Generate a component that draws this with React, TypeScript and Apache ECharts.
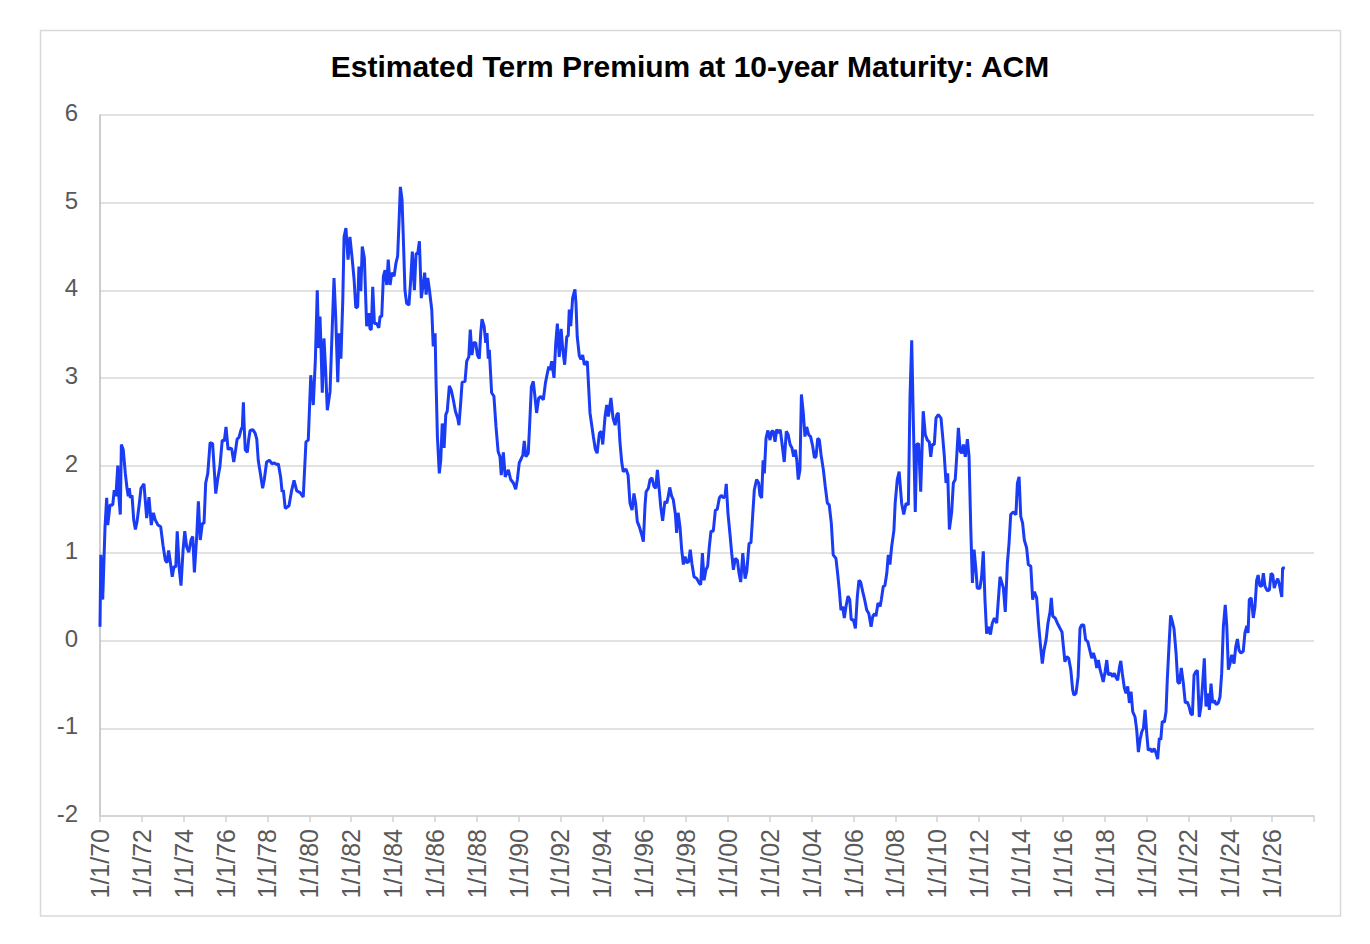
import React, { useEffect, useRef } from "react";
import * as echarts from "echarts";

const TITLE = "Estimated Term Premium at 10-year Maturity: ACM";
const X_MIN = 1970;
const X_MAX = 2028;
const X_STEP = 2;
const Y_MIN = -2;
const Y_MAX = 6;

// [decimal year, term premium %]
const acm1970s: [number, number][] = [
  [1970.0, 0.16], [1970.04, 0.98], [1970.13, 0.47], [1970.24, 1.3], [1970.32, 1.63], [1970.37, 1.32], [1970.48, 1.55], [1970.61, 1.55], [1970.68, 1.72], [1970.76, 1.65], [1970.85, 2.0], [1970.89, 1.68], [1970.97, 1.44],
  [1971.02, 2.24], [1971.11, 2.18], [1971.21, 1.91], [1971.29, 1.74], [1971.35, 1.65], [1971.4, 1.74], [1971.45, 1.63], [1971.53, 1.66], [1971.61, 1.38], [1971.69, 1.27], [1971.77, 1.36], [1971.88, 1.57], [1971.96, 1.74],
  [1972.1, 1.79], [1972.16, 1.61], [1972.23, 1.4], [1972.34, 1.64], [1972.45, 1.32], [1972.55, 1.46], [1972.64, 1.38], [1972.77, 1.32], [1972.9, 1.3],
  [1973.01, 1.09], [1973.12, 0.92], [1973.2, 0.89], [1973.28, 1.03], [1973.36, 0.9], [1973.45, 0.73], [1973.54, 0.85], [1973.62, 0.84], [1973.69, 1.25], [1973.79, 0.81], [1973.87, 0.63], [1973.97, 1.04],
  [1974.05, 1.25], [1974.14, 1.07], [1974.24, 1.01], [1974.35, 1.15], [1974.43, 1.19], [1974.51, 0.78], [1974.62, 1.19], [1974.7, 1.59], [1974.79, 1.15], [1974.89, 1.34], [1974.97, 1.34],
  [1975.05, 1.8], [1975.15, 1.91], [1975.26, 2.26], [1975.38, 2.25], [1975.53, 1.68], [1975.62, 1.84], [1975.73, 1.99], [1975.84, 2.29], [1975.94, 2.28],
  [1976.02, 2.44], [1976.12, 2.18], [1976.21, 2.2], [1976.29, 2.19], [1976.39, 2.04], [1976.48, 2.18], [1976.55, 2.3], [1976.64, 2.32], [1976.74, 2.41], [1976.8, 2.44], [1976.85, 2.72], [1976.89, 2.44], [1976.94, 2.18],
  [1977.04, 2.15], [1977.1, 2.29], [1977.17, 2.4], [1977.3, 2.41], [1977.41, 2.37], [1977.49, 2.3], [1977.56, 2.06], [1977.66, 1.91], [1977.77, 1.74], [1977.85, 1.84], [1977.96, 2.04],
  [1978.09, 2.06], [1978.22, 2.02], [1978.33, 2.03], [1978.44, 2.01], [1978.52, 2.02], [1978.63, 1.87], [1978.7, 1.7], [1978.76, 1.72], [1978.85, 1.51], [1979.03, 1.54],
  [1979.16, 1.72], [1979.27, 1.83], [1979.4, 1.71], [1979.56, 1.69], [1979.71, 1.64], [1979.84, 2.27], [1979.95, 2.29],
];

const acm1980s: [number, number][] = [
  [1980.07, 3.03], [1980.19, 2.69], [1980.29, 3.21], [1980.38, 4.0], [1980.45, 3.34], [1980.51, 3.7], [1980.56, 3.34], [1980.62, 2.83], [1980.7, 3.45], [1980.78, 3.09], [1980.86, 2.63], [1980.99, 2.84],
  [1981.08, 3.47], [1981.18, 4.14], [1981.26, 3.7], [1981.36, 2.95], [1981.43, 3.51], [1981.51, 3.22], [1981.6, 3.89], [1981.66, 4.61], [1981.75, 4.71], [1981.85, 4.35], [1981.94, 4.61],
  [1982.04, 4.38], [1982.14, 4.12], [1982.22, 3.8], [1982.31, 3.81], [1982.37, 4.27], [1982.46, 3.99], [1982.53, 4.5], [1982.63, 4.37], [1982.74, 3.59], [1982.84, 3.74], [1982.9, 3.56], [1982.96, 3.55],
  [1983.03, 4.04], [1983.11, 3.62], [1983.22, 3.62], [1983.32, 3.57], [1983.38, 3.7], [1983.46, 3.7], [1983.54, 4.16], [1983.62, 4.23], [1983.7, 4.06], [1983.77, 4.35], [1983.86, 4.06], [1983.94, 4.2],
  [1984.05, 4.16], [1984.14, 4.31], [1984.22, 4.39], [1984.29, 4.8], [1984.35, 5.18], [1984.43, 5.03], [1984.49, 4.61], [1984.57, 4.0], [1984.65, 3.85], [1984.76, 3.83], [1984.84, 4.1], [1984.92, 4.44],
  [1985.02, 4.0], [1985.1, 4.42], [1985.18, 4.42], [1985.26, 4.56], [1985.35, 3.91], [1985.45, 4.08], [1985.51, 4.2], [1985.58, 3.95], [1985.66, 4.14], [1985.73, 4.02], [1985.85, 3.78], [1985.92, 3.36],
  [1986.01, 3.51], [1986.05, 3.01], [1986.12, 2.33], [1986.21, 1.91], [1986.28, 2.06], [1986.35, 2.48], [1986.44, 2.2], [1986.52, 2.58], [1986.59, 2.62], [1986.69, 2.91], [1986.78, 2.86], [1986.88, 2.75], [1986.98, 2.62],
  [1987.09, 2.54], [1987.15, 2.46], [1987.23, 2.71], [1987.3, 2.95], [1987.44, 2.96], [1987.52, 3.19], [1987.62, 3.24], [1987.69, 3.55], [1987.77, 3.26], [1987.85, 3.4], [1987.95, 3.4],
  [1988.03, 3.26], [1988.12, 3.22], [1988.19, 3.51], [1988.25, 3.67], [1988.35, 3.59], [1988.43, 3.4], [1988.49, 3.51], [1988.55, 3.22], [1988.6, 3.32], [1988.71, 2.83], [1988.82, 2.79], [1988.92, 2.44],
  [1989.02, 2.16], [1989.11, 2.1], [1989.17, 1.89], [1989.27, 2.15], [1989.36, 1.87], [1989.51, 1.95], [1989.62, 1.84], [1989.75, 1.8], [1989.86, 1.73], [1989.94, 1.84],
];

const acm1990s: [number, number][] = [
  [1990.03, 2.03], [1990.13, 2.08], [1990.2, 2.12], [1990.27, 2.28], [1990.35, 2.1], [1990.46, 2.14], [1990.53, 2.48], [1990.61, 2.9], [1990.7, 2.96], [1990.77, 2.81], [1990.86, 2.6], [1990.96, 2.77],
  [1991.06, 2.79], [1991.18, 2.75], [1991.28, 2.94], [1991.37, 3.05], [1991.44, 3.13], [1991.5, 3.09], [1991.58, 3.19], [1991.69, 3.0], [1991.77, 3.38], [1991.85, 3.62], [1991.94, 3.24],
  [1992.03, 3.56], [1992.11, 3.32], [1992.2, 3.15], [1992.3, 3.47], [1992.37, 3.48], [1992.42, 3.78], [1992.49, 3.59], [1992.58, 3.91], [1992.69, 4.01], [1992.74, 3.85], [1992.8, 3.47], [1992.9, 3.25], [1992.98, 3.21],
  [1993.06, 3.26], [1993.14, 3.15], [1993.28, 3.19], [1993.41, 2.6], [1993.57, 2.33], [1993.66, 2.19], [1993.75, 2.14], [1993.86, 2.37], [1993.95, 2.39],
  [1994.02, 2.24], [1994.13, 2.56], [1994.21, 2.69], [1994.29, 2.56], [1994.41, 2.77], [1994.51, 2.54], [1994.61, 2.46], [1994.69, 2.58], [1994.76, 2.6], [1994.84, 2.27], [1994.93, 2.03],
  [1995.0, 1.93], [1995.13, 1.96], [1995.23, 1.89], [1995.32, 1.57], [1995.42, 1.49], [1995.51, 1.68], [1995.59, 1.57], [1995.67, 1.36], [1995.77, 1.3], [1995.88, 1.21], [1995.96, 1.13],
  [1996.04, 1.55], [1996.09, 1.7], [1996.2, 1.74], [1996.28, 1.84], [1996.37, 1.86], [1996.47, 1.76], [1996.55, 1.74], [1996.63, 1.95], [1996.72, 1.72], [1996.79, 1.53], [1996.88, 1.37], [1996.99, 1.59],
  [1997.08, 1.57], [1997.15, 1.65], [1997.22, 1.75], [1997.31, 1.65], [1997.39, 1.61], [1997.49, 1.44], [1997.55, 1.23], [1997.62, 1.46], [1997.71, 1.3], [1997.79, 1.04], [1997.87, 0.87], [1997.95, 0.96],
  [1998.03, 0.89], [1998.12, 0.9], [1998.2, 1.04], [1998.28, 0.88], [1998.38, 0.73], [1998.51, 0.71], [1998.62, 0.66], [1998.7, 0.64], [1998.78, 1.0], [1998.86, 0.69], [1998.95, 0.81],
  [1999.03, 0.85], [1999.11, 1.07], [1999.19, 1.25], [1999.3, 1.25], [1999.4, 1.49], [1999.49, 1.5], [1999.59, 1.63], [1999.68, 1.66], [1999.78, 1.63], [1999.86, 1.65], [1999.92, 1.79],
];

const acm2000s: [number, number][] = [
  [2000.0, 1.46], [2000.1, 1.21], [2000.18, 1.0], [2000.26, 0.81], [2000.35, 0.94], [2000.45, 0.92], [2000.53, 0.77], [2000.61, 0.67], [2000.71, 1.0], [2000.82, 0.71], [2000.9, 0.79],
  [2001.01, 1.11], [2001.1, 1.12], [2001.18, 1.42], [2001.26, 1.72], [2001.37, 1.84], [2001.47, 1.8], [2001.53, 1.66], [2001.61, 1.63], [2001.68, 2.06], [2001.74, 1.91], [2001.82, 2.31], [2001.91, 2.4],
  [2002.01, 2.29], [2002.09, 2.39], [2002.17, 2.39], [2002.25, 2.27], [2002.33, 2.41], [2002.43, 2.37], [2002.5, 2.41], [2002.6, 2.22], [2002.69, 2.04], [2002.79, 2.39], [2002.88, 2.35], [2002.97, 2.24],
  [2003.06, 2.2], [2003.14, 2.1], [2003.22, 2.18], [2003.29, 2.06], [2003.36, 1.84], [2003.44, 1.95], [2003.51, 2.81], [2003.6, 2.6], [2003.68, 2.33], [2003.76, 2.44], [2003.86, 2.35], [2003.95, 2.33],
  [2004.05, 2.22], [2004.13, 2.09], [2004.21, 2.1], [2004.29, 2.31], [2004.37, 2.29], [2004.45, 2.12], [2004.56, 1.95], [2004.65, 1.76], [2004.75, 1.57], [2004.84, 1.55], [2004.94, 1.34],
  [2005.03, 0.98], [2005.16, 0.94], [2005.24, 0.77], [2005.32, 0.58], [2005.4, 0.35], [2005.48, 0.39], [2005.56, 0.26], [2005.64, 0.39], [2005.74, 0.51], [2005.82, 0.47], [2005.89, 0.24], [2005.99, 0.24],
  [2006.09, 0.14], [2006.18, 0.5], [2006.26, 0.69], [2006.34, 0.67], [2006.44, 0.56], [2006.53, 0.47], [2006.63, 0.35], [2006.73, 0.31], [2006.84, 0.16], [2006.92, 0.28],
  [2007.01, 0.31], [2007.07, 0.28], [2007.17, 0.43], [2007.27, 0.39], [2007.33, 0.47], [2007.42, 0.62], [2007.5, 0.63], [2007.59, 0.77], [2007.66, 0.98], [2007.74, 0.87], [2007.82, 1.07], [2007.93, 1.26], [2007.99, 1.57],
  [2008.09, 1.84], [2008.18, 1.93], [2008.3, 1.57], [2008.4, 1.44], [2008.51, 1.57], [2008.62, 1.55], [2008.7, 2.79], [2008.78, 3.43], [2008.86, 2.48], [2008.95, 1.47],
  [2009.02, 2.24], [2009.11, 2.25], [2009.21, 1.7], [2009.33, 2.62], [2009.43, 2.35], [2009.53, 2.29], [2009.62, 2.27], [2009.69, 2.1], [2009.76, 2.24], [2009.86, 2.24], [2009.94, 2.54],
];

const acm2010s: [number, number][] = [
  [2010.05, 2.58], [2010.18, 2.54], [2010.26, 2.33], [2010.34, 2.1], [2010.42, 1.8], [2010.5, 1.91], [2010.58, 1.27], [2010.69, 1.47], [2010.77, 1.8], [2010.86, 1.84], [2010.93, 2.1],
  [2011.01, 2.43], [2011.1, 2.16], [2011.18, 2.14], [2011.25, 2.24], [2011.34, 2.1], [2011.44, 2.3], [2011.52, 2.1], [2011.6, 1.3], [2011.68, 0.66], [2011.76, 1.04], [2011.85, 0.81], [2011.91, 0.6],
  [2012.04, 0.6], [2012.12, 0.73], [2012.2, 1.02], [2012.28, 0.47], [2012.36, 0.08], [2012.44, 0.16], [2012.54, 0.07], [2012.63, 0.2], [2012.73, 0.26], [2012.84, 0.2], [2012.92, 0.47],
  [2013.0, 0.73], [2013.09, 0.66], [2013.16, 0.6], [2013.25, 0.33], [2013.35, 0.88], [2013.43, 1.11], [2013.51, 1.44], [2013.63, 1.47], [2013.76, 1.44], [2013.83, 1.8], [2013.91, 1.87], [2013.99, 1.42],
  [2014.08, 1.34], [2014.16, 1.15], [2014.27, 1.06], [2014.35, 0.87], [2014.47, 0.85], [2014.56, 0.47], [2014.64, 0.56], [2014.75, 0.49], [2014.85, 0.16], [2014.94, -0.07],
  [2015.02, -0.26], [2015.1, -0.11], [2015.2, 0.01], [2015.29, 0.2], [2015.39, 0.33], [2015.45, 0.49], [2015.52, 0.28], [2015.63, 0.26], [2015.74, 0.2], [2015.87, 0.14], [2015.96, 0.1],
  [2016.02, -0.05], [2016.1, -0.24], [2016.19, -0.18], [2016.28, -0.2], [2016.38, -0.33], [2016.47, -0.56], [2016.53, -0.62], [2016.63, -0.6], [2016.73, -0.41], [2016.82, 0.14], [2016.9, 0.18],
  [2017.0, 0.18], [2017.09, 0.01], [2017.19, -0.01], [2017.27, -0.09], [2017.38, -0.2], [2017.46, -0.14], [2017.55, -0.21], [2017.62, -0.31], [2017.7, -0.22], [2017.78, -0.33], [2017.87, -0.41], [2017.93, -0.47],
  [2018.02, -0.35], [2018.1, -0.22], [2018.17, -0.39], [2018.29, -0.37], [2018.38, -0.41], [2018.46, -0.37], [2018.54, -0.42], [2018.62, -0.45], [2018.7, -0.31], [2018.77, -0.23], [2018.84, -0.37], [2018.94, -0.54],
  [2019.02, -0.6], [2019.1, -0.52], [2019.18, -0.71], [2019.26, -0.58], [2019.34, -0.81], [2019.45, -0.87], [2019.53, -1.02], [2019.61, -1.27], [2019.69, -1.13], [2019.77, -1.04], [2019.85, -1.0], [2019.93, -0.79],
];

const acm2020s: [number, number][] = [
  [2020.01, -1.06], [2020.08, -1.25], [2020.17, -1.23], [2020.26, -1.27], [2020.36, -1.23], [2020.45, -1.28], [2020.53, -1.35], [2020.61, -1.11], [2020.68, -1.13], [2020.75, -0.92], [2020.85, -0.93], [2020.93, -0.81], [2020.99, -0.45],
  [2021.07, -0.07], [2021.15, 0.29], [2021.25, 0.2], [2021.31, 0.14], [2021.41, -0.14], [2021.49, -0.47], [2021.57, -0.49], [2021.66, -0.31], [2021.76, -0.49], [2021.85, -0.71], [2021.95, -0.7],
  [2022.03, -0.75], [2022.11, -0.83], [2022.19, -0.85], [2022.27, -0.39], [2022.36, -0.35], [2022.43, -0.34], [2022.52, -0.87], [2022.6, -0.75], [2022.68, -0.49], [2022.76, -0.2], [2022.84, -0.75], [2022.94, -0.6],
  [2023.0, -0.79], [2023.08, -0.49], [2023.16, -0.71], [2023.24, -0.68], [2023.33, -0.73], [2023.43, -0.71], [2023.51, -0.64], [2023.59, -0.37], [2023.67, 0.16], [2023.76, 0.41], [2023.83, 0.18], [2023.91, -0.33], [2023.99, -0.26],
  [2024.07, -0.16], [2024.18, -0.26], [2024.26, -0.07], [2024.34, 0.02], [2024.42, -0.11], [2024.51, -0.14], [2024.62, -0.12], [2024.7, 0.09], [2024.79, 0.17], [2024.85, 0.09], [2024.91, 0.47],
  [2025.0, 0.49], [2025.1, 0.26], [2025.18, 0.39], [2025.26, 0.69], [2025.33, 0.75], [2025.41, 0.63], [2025.5, 0.62], [2025.58, 0.77], [2025.66, 0.62], [2025.77, 0.57], [2025.87, 0.58], [2025.95, 0.77],
  [2026.03, 0.75], [2026.1, 0.6], [2026.19, 0.67], [2026.27, 0.71], [2026.34, 0.65], [2026.46, 0.5], [2026.5, 0.83], [2026.61, 0.83],
];

const acmSeries = [...acm1970s, ...acm1980s, ...acm1990s, ...acm2000s, ...acm2010s, ...acm2020s];

function tickLabel(v: number): string {
  if (v >= X_MAX) return "";
  return "1/1/" + String(Math.round(v)).slice(2);
}

export default function App() {
  const ref = useRef<HTMLDivElement>(null);

  useEffect(() => {
    if (!ref.current) return;
    const chart = echarts.init(ref.current, undefined, { renderer: "svg" });
    const font = "'Liberation Sans', Arial, Helvetica, sans-serif";
    chart.setOption({
      animation: false,
      backgroundColor: "#ffffff",
      graphic: [
        {
          type: "rect",
          shape: { x: 40.5, y: 30.5, width: 1300, height: 885.5 },
          style: { fill: "none", stroke: "#d9d9d9", lineWidth: 1.5 },
          silent: true,
        },
        {
          type: "text",
          x: 690,
          y: 66,
          style: {
            text: TITLE,
            fill: "#000000",
            fontSize: 30,
            fontWeight: "bold",
            fontFamily: font,
            textAlign: "center",
            textVerticalAlign: "middle",
          },
          silent: true,
        },
      ],
      grid: { left: 100, right: 56, top: 115, bottom: 128, containLabel: false },
      xAxis: {
        type: "value",
        min: X_MIN,
        max: X_MAX,
        interval: X_STEP,
        axisLine: { show: true, onZero: false, lineStyle: { color: "#d0d0d0", width: 1.5 } },
        axisTick: { show: true, length: 6, lineStyle: { color: "#d0d0d0", width: 1.5 } },
        splitLine: { show: false },
        axisLabel: {
          rotate: 90,
          margin: 13,
          fontSize: 25,
          color: "#595959",
          fontFamily: font,
          formatter: tickLabel,
        },
      },
      yAxis: {
        type: "value",
        min: Y_MIN,
        max: Y_MAX,
        interval: 1,
        axisLine: { show: true, lineStyle: { color: "#bdbdbd", width: 1.5 } },
        axisTick: { show: false },
        splitLine: { show: true, lineStyle: { color: "#d9d9d9", width: 1.5 } },
        axisLabel: { fontSize: 24, color: "#595959", margin: 22, fontFamily: font, verticalAlign: "bottom", lineHeight: 5 },
      },
      series: [
        {
          type: "line",
          data: acmSeries,
          showSymbol: false,
          symbol: "none",
          lineStyle: { color: "#1a3cf5", width: 3 },
          z: 5,
        },
      ],
    });
    return () => chart.dispose();
  }, []);

  return (
    <div
      ref={ref}
      style={{ position: "absolute", left: 0, top: 0, width: 1370, height: 944, background: "#fff" }}
    />
  );
}
